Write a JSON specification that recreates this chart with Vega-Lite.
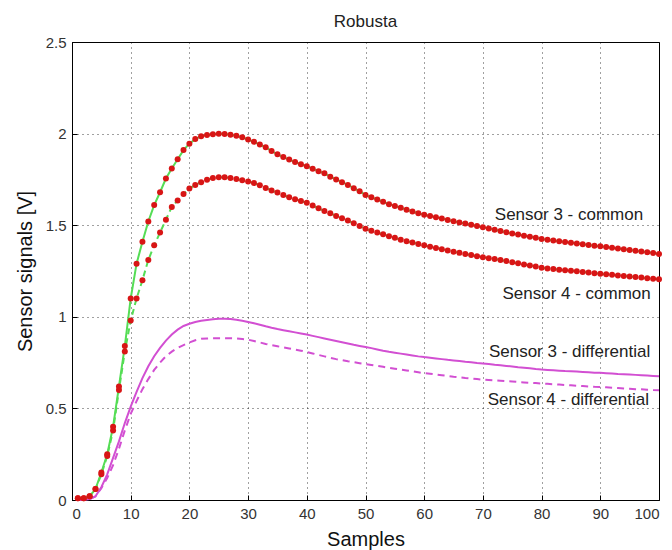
{
  "$schema": "https://vega.github.io/schema/vega-lite/v6.json",
  "width": 587,
  "height": 458,
  "autosize": {"type": "none"},
  "padding": {"left": 72, "top": 42, "right": 13, "bottom": 50},
  "background": "white",
  "title": {"text": "Robusta", "fontSize": 17, "font": "Liberation Sans", "fontWeight": "normal", "color": "#222", "offset": -9, "baseline": "alphabetic"},
  "config": {
    "view": {"stroke": "#000", "strokeWidth": 1},
    "font": "Liberation Sans",
    "axis": {
      "grid": true, "gridColor": "#000", "gridDash": [1, 4], "gridOpacity": 0.75, "gridWidth": 1,
      "domainColor": "#000", "domainWidth": 1,
      "tickColor": "#000", "tickSize": -5, "tickWidth": 1,
      "labelFont": "Liberation Sans", "labelFontSize": 15, "labelColor": "#333", "labelPadding": 11,
      "titleFont": "Liberation Sans", "titleFontSize": 20, "titleFontWeight": "normal", "titleColor": "#111"
    }
  },
  "data": {"values": [
    {"x":1,"c3":0.01,"c4":0.01,"d3":0,"d4":0},
    {"x":2,"c3":0.01,"c4":0.01,"d3":0,"d4":0},
    {"x":3,"c3":0.02,"c4":0.02,"d3":0.005,"d4":0.005},
    {"x":4,"c3":0.06,"c4":0.06,"d3":0.02,"d4":0.02},
    {"x":5,"c3":0.15,"c4":0.14,"d3":0.07,"d4":0.065},
    {"x":6,"c3":0.25,"c4":0.24,"d3":0.14,"d4":0.12},
    {"x":7,"c3":0.40,"c4":0.38,"d3":0.23,"d4":0.19},
    {"x":8,"c3":0.62,"c4":0.60,"d3":0.32,"d4":0.28},
    {"x":9,"c3":0.84,"c4":0.81,"d3":0.42,"d4":0.38},
    {"x":10,"c3":1.1,"c4":0.98,"d3":0.51,"d4":0.47},
    {"x":11,"c3":1.29,"c4":1.10,"d3":0.59,"d4":0.54},
    {"x":12,"c3":1.41,"c4":1.20,"d3":0.665,"d4":0.605},
    {"x":13,"c3":1.52,"c4":1.31,"d3":0.73,"d4":0.66},
    {"x":14,"c3":1.61,"c4":1.39,"d3":0.785,"d4":0.71},
    {"x":15,"c3":1.68,"c4":1.46,"d3":0.83,"d4":0.75},
    {"x":16,"c3":1.755,"c4":1.53,"d3":0.87,"d4":0.785},
    {"x":17,"c3":1.81,"c4":1.60,"d3":0.903,"d4":0.81},
    {"x":18,"c3":1.86,"c4":1.635,"d3":0.93,"d4":0.83},
    {"x":19,"c3":1.91,"c4":1.67,"d3":0.95,"d4":0.845},
    {"x":20,"c3":1.945,"c4":1.70,"d3":0.962,"d4":0.86},
    {"x":21,"c3":1.97,"c4":1.72,"d3":0.972,"d4":0.872},
    {"x":22,"c3":1.985,"c4":1.735,"d3":0.978,"d4":0.88},
    {"x":23,"c3":1.993,"c4":1.748,"d3":0.983,"d4":0.882},
    {"x":24,"c3":1.997,"c4":1.757,"d3":0.987,"d4":0.883},
    {"x":25,"c3":1.999,"c4":1.762,"d3":0.99,"d4":0.883},
    {"x":26,"c3":1.998,"c4":1.762,"d3":0.99,"d4":0.883},
    {"x":27,"c3":1.994,"c4":1.758,"d3":0.988,"d4":0.883},
    {"x":28,"c3":1.988,"c4":1.752,"d3":0.984,"d4":0.882},
    {"x":29,"c3":1.98,"c4":1.745,"d3":0.978,"d4":0.879},
    {"x":30,"c3":1.968,"c4":1.738,"d3":0.972,"d4":0.875},
    {"x":31,"c3":1.955,"c4":1.73,"d3":0.965,"d4":0.868},
    {"x":32,"c3":1.94,"c4":1.718,"d3":0.957,"d4":0.86},
    {"x":33,"c3":1.925,"c4":1.703,"d3":0.948,"d4":0.852},
    {"x":34,"c3":1.905,"c4":1.69,"d3":0.94,"d4":0.845},
    {"x":35,"c3":1.887,"c4":1.678,"d3":0.933,"d4":0.839},
    {"x":36,"c3":1.872,"c4":1.665,"d3":0.927,"d4":0.833},
    {"x":37,"c3":1.858,"c4":1.652,"d3":0.921,"d4":0.827},
    {"x":38,"c3":1.845,"c4":1.642,"d3":0.915,"d4":0.821},
    {"x":39,"c3":1.833,"c4":1.632,"d3":0.909,"d4":0.815},
    {"x":40,"c3":1.822,"c4":1.622,"d3":0.903,"d4":0.808},
    {"x":41,"c3":1.808,"c4":1.607,"d3":0.896,"d4":0.8},
    {"x":42,"c3":1.795,"c4":1.592,"d3":0.889,"d4":0.792},
    {"x":43,"c3":1.783,"c4":1.577,"d3":0.882,"d4":0.784},
    {"x":44,"c3":1.765,"c4":1.565,"d3":0.875,"d4":0.776},
    {"x":45,"c3":1.75,"c4":1.55,"d3":0.868,"d4":0.769},
    {"x":46,"c3":1.735,"c4":1.538,"d3":0.861,"d4":0.763},
    {"x":47,"c3":1.72,"c4":1.525,"d3":0.854,"d4":0.757},
    {"x":48,"c3":1.702,"c4":1.51,"d3":0.847,"d4":0.752},
    {"x":49,"c3":1.685,"c4":1.495,"d3":0.841,"d4":0.747},
    {"x":50,"c3":1.665,"c4":1.48,"d3":0.835,"d4":0.742},
    {"x":51,"c3":1.652,"c4":1.47,"d3":0.829,"d4":0.737},
    {"x":52,"c3":1.64,"c4":1.46,"d3":0.822,"d4":0.732},
    {"x":53,"c3":1.628,"c4":1.45,"d3":0.815,"d4":0.727},
    {"x":54,"c3":1.615,"c4":1.44,"d3":0.809,"d4":0.722},
    {"x":55,"c3":1.605,"c4":1.431,"d3":0.804,"d4":0.717},
    {"x":56,"c3":1.595,"c4":1.421,"d3":0.799,"d4":0.712},
    {"x":57,"c3":1.585,"c4":1.413,"d3":0.794,"d4":0.707},
    {"x":58,"c3":1.575,"c4":1.405,"d3":0.789,"d4":0.702},
    {"x":59,"c3":1.565,"c4":1.398,"d3":0.784,"d4":0.697},
    {"x":60,"c3":1.557,"c4":1.39,"d3":0.78,"d4":0.692},
    {"x":61,"c3":1.55,"c4":1.383,"d3":0.777,"d4":0.689},
    {"x":62,"c3":1.543,"c4":1.376,"d3":0.773,"d4":0.685},
    {"x":63,"c3":1.536,"c4":1.369,"d3":0.769,"d4":0.681},
    {"x":64,"c3":1.529,"c4":1.362,"d3":0.765,"d4":0.677},
    {"x":65,"c3":1.522,"c4":1.355,"d3":0.762,"d4":0.673},
    {"x":66,"c3":1.515,"c4":1.349,"d3":0.759,"d4":0.67},
    {"x":67,"c3":1.509,"c4":1.343,"d3":0.755,"d4":0.666},
    {"x":68,"c3":1.503,"c4":1.337,"d3":0.752,"d4":0.663},
    {"x":69,"c3":1.496,"c4":1.331,"d3":0.748,"d4":0.66},
    {"x":70,"c3":1.489,"c4":1.325,"d3":0.745,"d4":0.657},
    {"x":71,"c3":1.482,"c4":1.32,"d3":0.742,"d4":0.655},
    {"x":72,"c3":1.475,"c4":1.315,"d3":0.738,"d4":0.653},
    {"x":73,"c3":1.468,"c4":1.31,"d3":0.735,"d4":0.651},
    {"x":74,"c3":1.462,"c4":1.304,"d3":0.732,"d4":0.649},
    {"x":75,"c3":1.455,"c4":1.298,"d3":0.729,"d4":0.647},
    {"x":76,"c3":1.449,"c4":1.292,"d3":0.725,"d4":0.644},
    {"x":77,"c3":1.443,"c4":1.286,"d3":0.722,"d4":0.642},
    {"x":78,"c3":1.437,"c4":1.28,"d3":0.719,"d4":0.64},
    {"x":79,"c3":1.431,"c4":1.274,"d3":0.715,"d4":0.638},
    {"x":80,"c3":1.424,"c4":1.268,"d3":0.712,"d4":0.636},
    {"x":81,"c3":1.42,"c4":1.264,"d3":0.71,"d4":0.634},
    {"x":82,"c3":1.416,"c4":1.261,"d3":0.708,"d4":0.632},
    {"x":83,"c3":1.412,"c4":1.257,"d3":0.706,"d4":0.63},
    {"x":84,"c3":1.408,"c4":1.254,"d3":0.704,"d4":0.628},
    {"x":85,"c3":1.404,"c4":1.251,"d3":0.703,"d4":0.626},
    {"x":86,"c3":1.4,"c4":1.248,"d3":0.701,"d4":0.624},
    {"x":87,"c3":1.396,"c4":1.245,"d3":0.699,"d4":0.622},
    {"x":88,"c3":1.392,"c4":1.242,"d3":0.697,"d4":0.62},
    {"x":89,"c3":1.388,"c4":1.238,"d3":0.695,"d4":0.618},
    {"x":90,"c3":1.385,"c4":1.235,"d3":0.694,"d4":0.617},
    {"x":91,"c3":1.381,"c4":1.232,"d3":0.692,"d4":0.615},
    {"x":92,"c3":1.377,"c4":1.229,"d3":0.69,"d4":0.613},
    {"x":93,"c3":1.373,"c4":1.226,"d3":0.688,"d4":0.611},
    {"x":94,"c3":1.369,"c4":1.223,"d3":0.687,"d4":0.609},
    {"x":95,"c3":1.365,"c4":1.22,"d3":0.685,"d4":0.607},
    {"x":96,"c3":1.361,"c4":1.217,"d3":0.683,"d4":0.605},
    {"x":97,"c3":1.357,"c4":1.214,"d3":0.681,"d4":0.604},
    {"x":98,"c3":1.353,"c4":1.211,"d3":0.679,"d4":0.602},
    {"x":99,"c3":1.348,"c4":1.208,"d3":0.677,"d4":0.6},
    {"x":100,"c3":1.343,"c4":1.205,"d3":0.675,"d4":0.599}
  ]},
  "encoding": {
    "x": {"field": "x", "type": "quantitative", "scale": {"domain": [0, 100], "nice": false},
          "axis": {"title": "Samples", "values": [0,10,20,30,40,50,60,70,80,90,100], "format": "d", "titlePadding": 8}}
  },
  "layer": [
    {"mark": {"type": "line", "color": "#55dd55", "strokeWidth": 2},
     "encoding": {"y": {"field": "c3", "type": "quantitative", "scale": {"domain": [0, 2.5], "nice": false},
       "axis": {"title": "Sensor signals [V]", "values": [0,0.5,1,1.5,2,2.5], "format": "~g", "titlePadding": 10}}}},
    {"mark": {"type": "line", "color": "#55dd55", "strokeWidth": 2, "strokeDash": [6, 4]},
     "encoding": {"y": {"field": "c4", "type": "quantitative"}}},
    {"mark": {"type": "line", "color": "#d24fd2", "strokeWidth": 2},
     "encoding": {"y": {"field": "d3", "type": "quantitative"}}},
    {"mark": {"type": "line", "color": "#d24fd2", "strokeWidth": 2, "strokeDash": [7, 5]},
     "encoding": {"y": {"field": "d4", "type": "quantitative"}}},
    {"mark": {"type": "point", "filled": true, "shape": "circle", "size": 36, "color": "#d81515", "opacity": 1},
     "encoding": {"y": {"field": "c3", "type": "quantitative"}}},
    {"mark": {"type": "point", "filled": true, "shape": "circle", "size": 36, "color": "#d81515", "opacity": 1},
     "encoding": {"y": {"field": "c4", "type": "quantitative"}}},
    {"data": {"values": [
      {"label": "Sensor 3 - common", "lx": 97.3, "ly": 1.556},
      {"label": "Sensor 4 - common", "lx": 98.6, "ly": 1.124},
      {"label": "Sensor 3 - differential", "lx": 98.5, "ly": 0.807},
      {"label": "Sensor 4 - differential", "lx": 98.3, "ly": 0.544}
    ]},
     "mark": {"type": "text", "align": "right", "baseline": "middle", "fontSize": 17, "font": "Liberation Sans", "color": "#222"},
     "encoding": {"x": {"field": "lx", "type": "quantitative"}, "y": {"field": "ly", "type": "quantitative"}, "text": {"field": "label"}}}
  ]
}
